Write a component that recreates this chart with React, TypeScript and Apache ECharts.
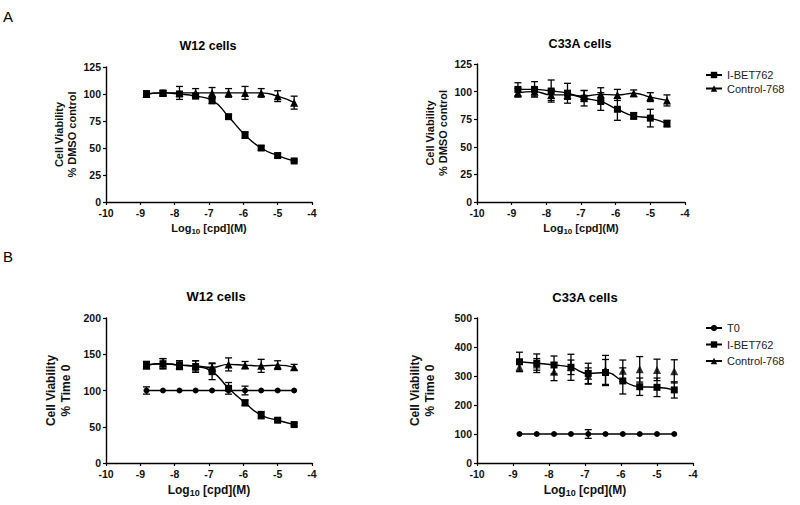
import React, { useEffect, useRef } from "react";
import * as echarts from "echarts";

// ---- data ----
const logDose = [-8.82, -8.34, -7.86, -7.39, -6.91, -6.43, -5.95, -5.48, -5.0, -4.52];
const seriesNames = ["T0", "I-BET762", "Control-768"];
const panelTitles = ["W12 cells", "C33A cells", "W12 cells", "C33A cells"];
const panelLetters = ["A", "B"];
const yNameA = "Cell Viability\n% DMSO control";
const yNameB = "Cell Viability\n% Time 0";
const xName = "{a|Log}{s|10}{a| [cpd](M)}";

// Panel A, W12
const aW12Ibet = [100, 101, 100, 98, 94, 79, 62, 50, 43, 38];
const aW12IbetErr = [3, 2, 2, 2, 3, 2, 3, 2, 2, 1];
const aW12Ctrl = [100, 101, 101, 101, 101, 101, 101, 101, 98, 92];
const aW12CtrlErr = [2, 2, 6, 4, 5, 4, 6, 4, 5, 6];
// Panel A, C33A
const aC33Ibet = [102, 102, 100.5, 98.5, 94, 91, 84, 78, 76, 71];
const aC33IbetErr = [6, 7, 10, 9, 7, 8, 10, 3, 8, 3];
const aC33Ctrl = [99, 100, 97, 97, 96, 97.5, 97, 98.5, 95, 92];
const aC33CtrlErr = [4, 4, 5, 4, 5, 6, 5, 3, 4, 5];
// Panel B, W12
const bW12T0 = [100, 100, 100, 100, 100, 100, 100, 100, 100, 100];
const bW12T0Err = [5, 0, 0, 0, 0, 0, 6, 0, 0, 0];
const bW12Ibet = [135, 137, 135, 133, 126, 103, 83, 66, 59, 53];
const bW12IbetErr = [5, 7, 6, 8, 11, 8, 4, 5, 2, 2];
const bW12Ctrl = [135, 137, 135, 134, 132, 136, 135, 134, 135, 132];
const bW12CtrlErr = [5, 7, 6, 7, 6, 9, 5, 9, 6, 4];
// Panel B, C33A
const bC33T0 = [100, 100, 100, 100, 100, 100, 100, 100, 100, 100];
const bC33T0Err = [0, 0, 0, 0, 15, 0, 0, 0, 0, 0];
const bC33Ibet = [349, 344, 338, 330, 309, 312, 283, 263, 261, 252];
const bC33IbetErr = [33, 32, 31, 45, 35, 45, 45, 30, 32, 28];
const bC33Ctrl = [330, 340, 315, 330, 300, 321, 318, 323, 321, 316];
const bC33CtrlErr = [15, 20, 31, 25, 28, 50, 37, 44, 37, 40];

const FONT = "'Liberation Sans', Arial, sans-serif";
const INK = "#111";

const pts = (v: number[]) => logDose.map((x, i) => [x, v[i]]);
const errPts = (v: number[], e: number[]) => logDose.map((x, i) => [x, v[i], e[i]]);

let errCount = 0;
function errSeries(idx: number, v: number[], e: number[]) {
  errCount += 1;
  return {
    type: "custom",
    name: "err-" + errCount,
    xAxisIndex: idx,
    yAxisIndex: idx,
    silent: true,
    z: 1,
    encode: { x: 0, y: 1 },
    data: errPts(v, e),
    renderItem: (_p: any, api: any) => {
      const x = api.value(0);
      const y = api.value(1);
      const err = api.value(2);
      if (!err) return { type: "group", children: [] };
      const t = api.coord([x, y + err]);
      const b = api.coord([x, y - err]);
      const w = 3.5;
      const st = { stroke: "#000", lineWidth: 1.3 };
      return {
        type: "group",
        children: [
          { type: "line", shape: { x1: t[0], y1: t[1], x2: b[0], y2: b[1] }, style: st },
          { type: "line", shape: { x1: t[0] - w, y1: t[1], x2: t[0] + w, y2: t[1] }, style: st },
          { type: "line", shape: { x1: b[0] - w, y1: b[1], x2: b[0] + w, y2: b[1] }, style: st },
        ],
      };
    },
  };
}

function lineSeries(idx: number, name: string, v: number[], symbol: string, size: number, withLine = true) {
  return {
    type: withLine ? "line" : "scatter",
    name,
    xAxisIndex: idx,
    yAxisIndex: idx,
    data: pts(v),
    symbol,
    symbolSize: size,
    showSymbol: true,
    smooth: 0.55,
    z: 3,
    lineStyle: { color: "#000", width: 1.4 },
    itemStyle: { color: "#000" },
  };
}

const grids = [
  { left: 106, top: 67, width: 206, height: 135 },
  { left: 477, top: 64, width: 208, height: 138 },
  { left: 106, top: 318, width: 206, height: 145 },
  { left: 477, top: 318, width: 216, height: 145 },
];
const yRanges = [
  [125, 25],
  [125, 25],
  [200, 50],
  [500, 100],
];

export default function App() {
  const ref = useRef<HTMLDivElement>(null);
  useEffect(() => {
    if (!ref.current) return;
    const chart = echarts.init(ref.current, undefined, { renderer: "svg" });
    const axisLine = { show: true, lineStyle: { color: "#000", width: 1.4 } };
    const axisTick = { show: true, length: 3, lineStyle: { color: "#000", width: 1.2 } };
    const labelStyle = { color: INK, fontFamily: FONT, fontWeight: "bold", fontSize: 10.5 };

    const xAxis = grids.map((_, i) => {
      const fs = i < 2 ? 11 : 12;
      return {
        type: "value",
        gridIndex: i,
        min: -10,
        max: -4,
        interval: 1,
        axisLine,
        axisTick,
        splitLine: { show: false },
        axisLabel: { ...labelStyle, margin: 5 },
        name: xName,
        nameLocation: "middle",
        nameGap: i < 2 ? 18 : 19,
        nameTextStyle: {
          rich: {
            a: { fontFamily: FONT, fontWeight: "bold", fontSize: fs, color: INK, lineHeight: 15, verticalAlign: "middle" },
            s: { fontFamily: FONT, fontWeight: "bold", fontSize: fs - 3, color: INK, lineHeight: 15, verticalAlign: "bottom" },
          },
        },
      };
    });
    const yAxis = grids.map((_, i) => ({
      type: "value",
      gridIndex: i,
      min: 0,
      max: yRanges[i][0],
      interval: yRanges[i][1],
      axisLine,
      axisTick,
      splitLine: { show: false },
      axisLabel: { ...labelStyle, margin: 5 },
      name: i < 2 ? yNameA : yNameB,
      nameLocation: "middle",
      nameRotate: 90,
      nameGap: i < 2 ? 28 : i === 2 ? 33 : 40,
      nameTextStyle: {
        fontFamily: FONT,
        fontWeight: "bold",
        fontSize: i < 2 ? 11 : 12,
        color: INK,
        lineHeight: i < 2 ? 13 : 15,
        align: "center",
      },
    }));

    const series: any[] = [
      // Panel A W12
      errSeries(0, aW12Ibet, aW12IbetErr),
      errSeries(0, aW12Ctrl, aW12CtrlErr),
      lineSeries(0, seriesNames[1], aW12Ibet, "rect", 7),
      lineSeries(0, seriesNames[2], aW12Ctrl, "triangle", 8),
      // Panel A C33A
      errSeries(1, aC33Ibet, aC33IbetErr),
      errSeries(1, aC33Ctrl, aC33CtrlErr),
      lineSeries(1, seriesNames[1], aC33Ibet, "rect", 7),
      lineSeries(1, seriesNames[2], aC33Ctrl, "triangle", 8),
      // Panel B W12
      errSeries(2, bW12T0, bW12T0Err),
      errSeries(2, bW12Ibet, bW12IbetErr),
      errSeries(2, bW12Ctrl, bW12CtrlErr),
      lineSeries(2, seriesNames[0], bW12T0, "circle", 6),
      lineSeries(2, seriesNames[1], bW12Ibet, "rect", 7),
      lineSeries(2, seriesNames[2], bW12Ctrl, "triangle", 8),
      // Panel B C33A
      errSeries(3, bC33T0, bC33T0Err),
      errSeries(3, bC33Ibet, bC33IbetErr),
      errSeries(3, bC33Ctrl, bC33CtrlErr),
      lineSeries(3, seriesNames[0], bC33T0, "circle", 6),
      lineSeries(3, seriesNames[1], bC33Ibet, "rect", 7),
      lineSeries(3, seriesNames[2], bC33Ctrl, "triangle", 8, false),
    ];

    const legendText = { fontFamily: FONT, fontSize: 11, color: "#222", lineHeight: 12 };
    const titlePos = [
      [208, 46],
      [580, 44],
      [216, 296],
      [585, 297],
    ];
    const titleSize = [12.5, 12.5, 13, 13];
    const letterPos = [
      [3, 16],
      [3, 256],
    ];

    chart.setOption({
      animation: false,
      backgroundColor: "#fff",
      grid: grids,
      xAxis,
      yAxis,
      series,
      legend: [
        {
          data: [seriesNames[1], seriesNames[2]],
          orient: "vertical",
          left: 700,
          top: 64,
          itemWidth: 16,
          itemHeight: 8,
          itemGap: 1.5,
          selectedMode: false,
          textStyle: legendText,
        },
        {
          data: seriesNames,
          orient: "vertical",
          left: 700,
          top: 317,
          itemWidth: 16,
          itemHeight: 8,
          itemGap: 4.5,
          selectedMode: false,
          textStyle: legendText,
        },
      ],
      graphic: [
        ...panelTitles.map((t, i) => ({
          type: "text",
          x: titlePos[i][0],
          y: titlePos[i][1],
          style: {
            text: t,
            fill: "#000",
            font: `bold ${titleSize[i]}px ${FONT}`,
            textAlign: "center",
            textVerticalAlign: "middle",
          },
        })),
        ...panelLetters.map((t, i) => ({
          type: "text",
          x: letterPos[i][0],
          y: letterPos[i][1],
          style: {
            text: t,
            fill: "#000",
            font: `15px ${FONT}`,
            textAlign: "left",
            textVerticalAlign: "middle",
          },
        })),
      ],
    });
    return () => chart.dispose();
  }, []);
  return (
    <div
      ref={ref}
      style={{ position: "absolute", left: 0, top: 0, width: 800, height: 505, background: "#fff" }}
    />
  );
}
